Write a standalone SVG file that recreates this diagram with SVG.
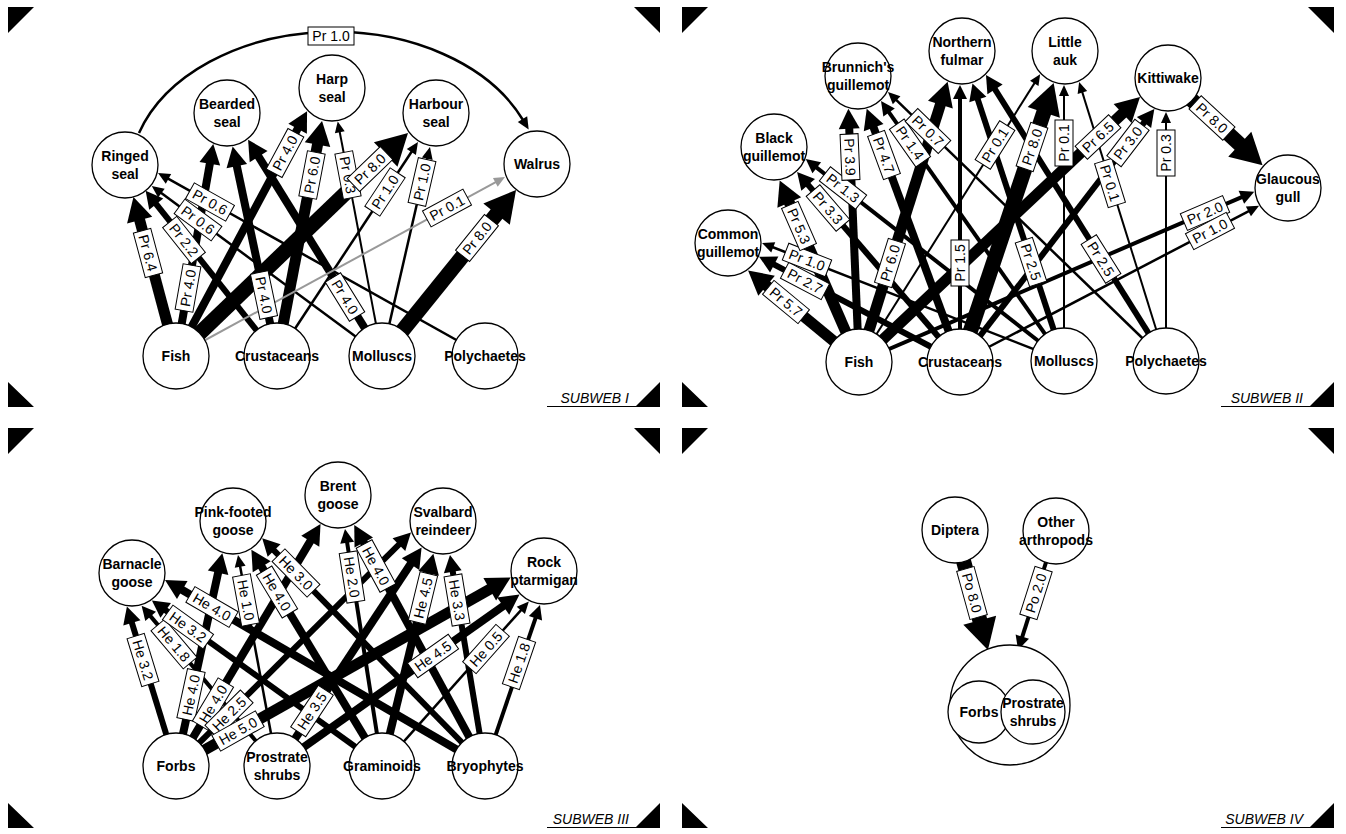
<svg xmlns="http://www.w3.org/2000/svg" width="1346" height="834" viewBox="0 0 1346 834">
<style>
.c line,.c path{stroke:#000;fill:none;stroke-linecap:butt}
.a{stroke-width:2;marker-end:url(#mA)}
.b{stroke-width:2.5;marker-end:url(#mB)}
.cc{stroke-width:4;marker-end:url(#mC)}
.d{stroke-width:6;marker-end:url(#mD)}
.e{stroke-width:8;marker-end:url(#mE)}
.f{stroke-width:11;marker-end:url(#mF)}
.g{stroke-width:15;marker-end:url(#mG)}
.c line.gr{stroke:#999;stroke-width:2;marker-end:url(#mAg)}
.n circle{fill:#fff;stroke:#000;stroke-width:1.3}
.n text{font-family:"Liberation Sans",Arial,sans-serif;font-weight:bold;font-size:14px;text-anchor:middle;fill:#000}
.l rect{fill:#fff;stroke:#000;stroke-width:1}
.l text{font-family:"Liberation Sans",Arial,sans-serif;font-size:14px;text-anchor:middle;fill:#000}
.sw{font-family:"Liberation Sans",Arial,sans-serif;font-style:italic;font-size:14px;text-anchor:end;fill:#000}
</style>
<defs>
<marker id="mA" markerUnits="userSpaceOnUse" orient="auto" overflow="visible" markerWidth="1" markerHeight="1"><path d="M-1,-5 L10,0 L-1,5 Z" fill="#000"/></marker>
<marker id="mAg" markerUnits="userSpaceOnUse" orient="auto" overflow="visible" markerWidth="1" markerHeight="1"><path d="M-1,-5 L10,0 L-1,5 Z" fill="#999"/></marker>
<marker id="mB" markerUnits="userSpaceOnUse" orient="auto" overflow="visible" markerWidth="1" markerHeight="1"><path d="M-1,-5.5 L11,0 L-1,5.5 Z" fill="#000"/></marker>
<marker id="mC" markerUnits="userSpaceOnUse" orient="auto" overflow="visible" markerWidth="1" markerHeight="1"><path d="M-1,-7 L13,0 L-1,7 Z" fill="#000"/></marker>
<marker id="mD" markerUnits="userSpaceOnUse" orient="auto" overflow="visible" markerWidth="1" markerHeight="1"><path d="M-1,-9 L16,0 L-1,9 Z" fill="#000"/></marker>
<marker id="mE" markerUnits="userSpaceOnUse" orient="auto" overflow="visible" markerWidth="1" markerHeight="1"><path d="M-1,-10.5 L19,0 L-1,10.5 Z" fill="#000"/></marker>
<marker id="mF" markerUnits="userSpaceOnUse" orient="auto" overflow="visible" markerWidth="1" markerHeight="1"><path d="M-1,-13 L23,0 L-1,13 Z" fill="#000"/></marker>
<marker id="mG" markerUnits="userSpaceOnUse" orient="auto" overflow="visible" markerWidth="1" markerHeight="1"><path d="M-1,-17 L30,0 L-1,17 Z" fill="#000"/></marker>
<g id="frame">
<path d="M8,7 L34,7 L8,33 Z M634,7 L660,7 L660,33 Z M8,382 L8,407 L34,407 Z M660,382 L660,407 L635,407 Z" fill="#000"/>
<line x1="547" y1="406.5" x2="660" y2="406.5" stroke="#000" stroke-width="1"/>
</g>
</defs>
<rect width="1346" height="834" fill="#fff"/>
<g id="frames">
<use href="#frame"/>
<use href="#frame" x="674"/>
<use href="#frame" y="421"/>
<use href="#frame" x="674" y="421"/>
<text class="sw" x="629" y="403">SUBWEB I</text>
<text class="sw" x="1303" y="403">SUBWEB II</text>
<text class="sw" x="629" y="824">SUBWEB III</text>
<text class="sw" x="1303" y="824">SUBWEB IV</text>
</g>
<g id="connectors" class="c">
<!-- subweb I -->
<line class="f" x1="176" y1="356" x2="139.4" y2="219.2"/>
<line class="d" x1="277" y1="356" x2="155.6" y2="203.3"/>
<line class="b" x1="382" y1="356" x2="160.6" y2="192.5"/>
<line class="b" x1="485" y1="356" x2="167.6" y2="178.4"/>
<line class="e" x1="176" y1="356" x2="210" y2="162.8"/>
<line class="e" x1="277" y1="356" x2="236.6" y2="165.1"/>
<line class="e" x1="382" y1="356" x2="258.1" y2="155.8"/>
<line class="e" x1="176" y1="356" x2="298.1" y2="127.9"/>
<line class="f" x1="277" y1="356" x2="317.7" y2="143.6"/>
<line class="a" x1="382" y1="356" x2="339.6" y2="131.3"/>
<line class="g" x1="176" y1="356" x2="386.4" y2="153.8"/>
<line class="b" x1="277" y1="356" x2="411.9" y2="151.2"/>
<line class="b" x1="382" y1="356" x2="427.5" y2="157.7"/>
<line class="gr" x1="176" y1="356" x2="496.2" y2="181.8"/>
<line class="g" x1="382" y1="356" x2="497.2" y2="213.3"/>
<path class="b" d="M139,133 A205,145 0 0 1 523,120"/>
<!-- subweb II -->
<line class="f" x1="859" y1="362" x2="765.8" y2="285.1"/>
<line class="d" x1="960" y1="362" x2="773.3" y2="264.1"/>
<line class="b" x1="1064" y1="361" x2="772.3" y2="247"/>
<line class="f" x1="859" y1="362" x2="788.9" y2="201.6"/>
<line class="d" x1="960" y1="362" x2="807.5" y2="184.1"/>
<line class="cc" x1="1064" y1="361" x2="816" y2="167.1"/>
<line class="e" x1="859" y1="362" x2="849.2" y2="127.7"/>
<line class="e" x1="960" y1="362" x2="873.3" y2="126.6"/>
<line class="cc" x1="1064" y1="361" x2="888.5" y2="111.6"/>
<line class="b" x1="1166" y1="361" x2="895.9" y2="99.6"/>
<line class="f" x1="859" y1="362" x2="940.7" y2="103.7"/>
<line class="cc" x1="960" y1="362" x2="960" y2="98"/>
<line class="d" x1="1064" y1="361" x2="977.5" y2="98.6"/>
<line class="d" x1="1166" y1="361" x2="994.5" y2="88.5"/>
<line class="a" x1="859" y1="362" x2="1034.8" y2="82.6"/>
<line class="g" x1="960" y1="362" x2="1044.1" y2="111.5"/>
<line class="a" x1="1064" y1="361" x2="1064" y2="95"/>
<line class="a" x1="1166" y1="361" x2="1082.1" y2="91.6"/>
<line class="f" x1="859" y1="362" x2="1123.3" y2="112.8"/>
<line class="d" x1="960" y1="362" x2="1144.6" y2="121.8"/>
<line class="a" x1="1166" y1="361" x2="1166" y2="122"/>
<line class="g" x1="1168" y1="78" x2="1240.5" y2="145"/>
<line class="cc" x1="859" y1="362" x2="1242.3" y2="196.9"/>
<line class="b" x1="960" y1="362" x2="1249.3" y2="210.8"/>
<!-- subweb III -->
<line class="d" x1="176" y1="766" x2="131.6" y2="621.9"/>
<line class="cc" x1="277" y1="766" x2="150" y2="615.6"/>
<line class="d" x1="382" y1="766" x2="164.9" y2="609.8"/>
<line class="e" x1="485" y1="766" x2="181.4" y2="589.5"/>
<line class="e" x1="176" y1="766" x2="218.3" y2="571.8"/>
<line class="b" x1="277" y1="766" x2="240" y2="565.8"/>
<line class="e" x1="382" y1="766" x2="261.2" y2="565.9"/>
<line class="d" x1="485" y1="766" x2="273.4" y2="549.8"/>
<line class="e" x1="176" y1="766" x2="310.8" y2="540.4"/>
<line class="cc" x1="382" y1="766" x2="347" y2="541.8"/>
<line class="e" x1="485" y1="766" x2="363.3" y2="541.6"/>
<line class="d" x1="176" y1="766" x2="399.6" y2="543.9"/>
<line class="e" x1="277" y1="766" x2="411.1" y2="563.3"/>
<line class="e" x1="382" y1="766" x2="428.9" y2="572.2"/>
<line class="d" x1="485" y1="766" x2="452.6" y2="570.8"/>
<line class="f" x1="176" y1="766" x2="490.6" y2="588.8"/>
<line class="e" x1="277" y1="766" x2="504" y2="605.5"/>
<line class="b" x1="382" y1="766" x2="521.5" y2="609.6"/>
<line class="cc" x1="485" y1="766" x2="535.8" y2="617.3"/>
<!-- subweb IV -->
<line class="g" x1="955" y1="530" x2="980" y2="621.1"/>
<line class="cc" x1="1056" y1="531" x2="1022" y2="637.6"/>
</g>
<g class="n">
<g id="ringed-seal"><circle cx="125" cy="165" r="33"/><text x="125" y="161">Ringed</text><text x="125" y="179">seal</text></g>
<g id="bearded-seal"><circle cx="227" cy="113" r="33"/><text x="227" y="109">Bearded</text><text x="227" y="127">seal</text></g>
<g id="harp-seal"><circle cx="332" cy="88" r="33"/><text x="332" y="84">Harp</text><text x="332" y="102">seal</text></g>
<g id="harbour-seal"><circle cx="436" cy="113" r="33"/><text x="436" y="109">Harbour</text><text x="436" y="127">seal</text></g>
<g id="walrus"><circle cx="537" cy="164" r="33"/><text x="537" y="169">Walrus</text></g>
<g id="fish-1"><circle cx="176" cy="356" r="33"/><text x="176" y="361">Fish</text></g>
<g id="crustaceans-1"><circle cx="277" cy="356" r="33"/><text x="277" y="361">Crustaceans</text></g>
<g id="molluscs-1"><circle cx="382" cy="356" r="33"/><text x="382" y="361">Molluscs</text></g>
<g id="polychaetes-1"><circle cx="485" cy="356" r="33"/><text x="485" y="361">Polychaetes</text></g>

<g id="common-guillemot"><circle cx="728" cy="243" r="33"/><text x="728" y="239">Common</text><text x="728" y="257">guillemot</text></g>
<g id="black-guillemot"><circle cx="774" cy="147" r="33"/><text x="774" y="143">Black</text><text x="774" y="161">guillemot</text></g>
<g id="brunnichs-guillemot"><circle cx="858" cy="76" r="33"/><text x="858" y="72">Brunnich's</text><text x="858" y="90">guillemot</text></g>
<g id="northern-fulmar"><circle cx="962" cy="51" r="33"/><text x="962" y="47">Northern</text><text x="962" y="65">fulmar</text></g>
<g id="little-auk"><circle cx="1065" cy="51" r="33"/><text x="1065" y="47">Little</text><text x="1065" y="65">auk</text></g>
<g id="kittiwake"><circle cx="1168" cy="78" r="33"/><text x="1168" y="83">Kittiwake</text></g>
<g id="glaucous-gull"><circle cx="1288" cy="188" r="33"/><text x="1288" y="184">Glaucous</text><text x="1288" y="202">gull</text></g>
<g id="fish-2"><circle cx="859" cy="362" r="33"/><text x="859" y="367">Fish</text></g>
<g id="crustaceans-2"><circle cx="960" cy="362" r="33"/><text x="960" y="367">Crustaceans</text></g>
<g id="molluscs-2"><circle cx="1064" cy="361" r="33"/><text x="1064" y="366">Molluscs</text></g>
<g id="polychaetes-2"><circle cx="1166" cy="361" r="33"/><text x="1166" y="366">Polychaetes</text></g>

<g id="barnacle-goose"><circle cx="132" cy="573" r="33"/><text x="132" y="569">Barnacle</text><text x="132" y="587">goose</text></g>
<g id="pink-footed-goose"><circle cx="233" cy="521" r="33"/><text x="233" y="517">Pink-footed</text><text x="233" y="535">goose</text></g>
<g id="brent-goose"><circle cx="338" cy="495" r="33"/><text x="338" y="491">Brent</text><text x="338" y="509">goose</text></g>
<g id="svalbard-reindeer"><circle cx="443" cy="521" r="33"/><text x="443" y="517">Svalbard</text><text x="443" y="535">reindeer</text></g>
<g id="rock-ptarmigan"><circle cx="544" cy="571" r="33"/><text x="544" y="567">Rock</text><text x="544" y="585">ptarmigan</text></g>
<g id="forbs-3"><circle cx="176" cy="766" r="33"/><text x="176" y="771">Forbs</text></g>
<g id="prostrate-shrubs-3"><circle cx="277" cy="766" r="33"/><text x="277" y="762">Prostrate</text><text x="277" y="780">shrubs</text></g>
<g id="graminoids-3"><circle cx="382" cy="766" r="33"/><text x="382" y="771">Graminoids</text></g>
<g id="bryophytes-3"><circle cx="485" cy="766" r="33"/><text x="485" y="771">Bryophytes</text></g>

<g id="diptera"><circle cx="955" cy="530" r="33"/><text x="955" y="535">Diptera</text></g>
<g id="other-arthropods"><circle cx="1056" cy="531" r="33"/><text x="1056" y="527">Other</text><text x="1056" y="545">arthropods</text></g>
<g id="plants-4"><circle cx="1010" cy="705" r="60"/></g>
<g id="forbs-4"><circle cx="979" cy="712" r="31"/><text x="979" y="717">Forbs</text></g>
<g id="prostrate-shrubs-4"><circle cx="1033" cy="712" r="32"/><text x="1033" y="708">Prostrate</text><text x="1033" y="726">shrubs</text></g>
</g>
<g id="edge-labels" class="l">
<g transform="translate(331,36)"><rect x="-23" y="-9" width="46" height="18"/><text y="5">Pr 1.0</text></g>
<g transform="translate(148,253) rotate(75)"><rect x="-23" y="-9" width="46" height="18"/><text y="5">Pr 6.4</text></g>
<g transform="translate(184,240) rotate(51.5)"><rect x="-23" y="-9" width="46" height="18"/><text y="5">Pr 2.2</text></g>
<g transform="translate(198,220) rotate(36.4)"><rect x="-23" y="-9" width="46" height="18"/><text y="5">Pr 0.6</text></g>
<g transform="translate(210,202) rotate(29.2)"><rect x="-23" y="-9" width="46" height="18"/><text y="5">Pr 0.6</text></g>
<g transform="translate(188,288) rotate(-80)"><rect x="-23" y="-9" width="46" height="18"/><text y="5">Pr 4.0</text></g>
<g transform="translate(264,295) rotate(78.1)"><rect x="-23" y="-9" width="46" height="18"/><text y="5">Pr 4.0</text></g>
<g transform="translate(345,297) rotate(58.3)"><rect x="-23" y="-9" width="46" height="18"/><text y="5">Pr 4.0</text></g>
<g transform="translate(285,153) rotate(-61.8)"><rect x="-23" y="-9" width="46" height="18"/><text y="5">Pr 4.0</text></g>
<g transform="translate(312,175) rotate(-79.2)"><rect x="-23" y="-9" width="46" height="18"/><text y="5">Pr 6.0</text></g>
<g transform="translate(348,175) rotate(79.3)"><rect x="-23" y="-9" width="46" height="18"/><text y="5">Pr 0.3</text></g>
<g transform="translate(370,169) rotate(-43.9)"><rect x="-23" y="-9" width="46" height="18"/><text y="5">Pr 8.0</text></g>
<g transform="translate(385,192) rotate(-56.6)"><rect x="-23" y="-9" width="46" height="18"/><text y="5">Pr 1.0</text></g>
<g transform="translate(422,182) rotate(-77.1)"><rect x="-23" y="-9" width="46" height="18"/><text y="5">Pr 1.0</text></g>
<g transform="translate(447,208) rotate(-28.5)"><rect x="-23" y="-9" width="46" height="18"/><text y="5">Pr 0.1</text></g>
<g transform="translate(477,238) rotate(-51.1)"><rect x="-23" y="-9" width="46" height="18"/><text y="5">Pr 8.0</text></g>

<g transform="translate(786,302) rotate(39.6)"><rect x="-23" y="-9" width="46" height="18"/><text y="5">Pr 5.7</text></g>
<g transform="translate(805,281) rotate(27.7)"><rect x="-23" y="-9" width="46" height="18"/><text y="5">Pr 2.7</text></g>
<g transform="translate(807,260) rotate(21.3)"><rect x="-23" y="-9" width="46" height="18"/><text y="5">Pr 1.0</text></g>
<g transform="translate(799,226) rotate(66.4)"><rect x="-23" y="-9" width="46" height="18"/><text y="5">Pr 5.3</text></g>
<g transform="translate(828,208) rotate(49.4)"><rect x="-23" y="-9" width="46" height="18"/><text y="5">Pr 3.3</text></g>
<g transform="translate(843,188) rotate(38)"><rect x="-23" y="-9" width="46" height="18"/><text y="5">Pr 1.3</text></g>
<g transform="translate(850,157) rotate(87.6)"><rect x="-23" y="-9" width="46" height="18"/><text y="5">Pr 3.9</text></g>
<g transform="translate(884,155) rotate(69.8)"><rect x="-23" y="-9" width="46" height="18"/><text y="5">Pr 4.7</text></g>
<g transform="translate(910,143) rotate(54.9)"><rect x="-23" y="-9" width="46" height="18"/><text y="5">Pr 1.4</text></g>
<g transform="translate(928,131) rotate(44.1)"><rect x="-23" y="-9" width="46" height="18"/><text y="5">Pr 0.7</text></g>
<g transform="translate(890,263) rotate(-72.5)"><rect x="-23" y="-9" width="46" height="18"/><text y="5">Pr 6.0</text></g>
<g transform="translate(960,263) rotate(-90)"><rect x="-23" y="-9" width="46" height="18"/><text y="5">Pr 1.5</text></g>
<g transform="translate(1031,262) rotate(71.8)"><rect x="-23" y="-9" width="46" height="18"/><text y="5">Pr 2.5</text></g>
<g transform="translate(1101,259) rotate(57.8)"><rect x="-23" y="-9" width="46" height="18"/><text y="5">Pr 2.5</text></g>
<g transform="translate(995,145) rotate(-57.8)"><rect x="-23" y="-9" width="46" height="18"/><text y="5">Pr 0.1</text></g>
<g transform="translate(1032,147) rotate(-71.4)"><rect x="-23" y="-9" width="46" height="18"/><text y="5">Pr 8.0</text></g>
<g transform="translate(1064,143) rotate(-90)"><rect x="-23" y="-9" width="46" height="18"/><text y="5">Pr 0.1</text></g>
<g transform="translate(1110,183) rotate(72.7)"><rect x="-23" y="-9" width="46" height="18"/><text y="5">Pr 0.1</text></g>
<g transform="translate(1098,137) rotate(-43.3)"><rect x="-23" y="-9" width="46" height="18"/><text y="5">Pr 6.5</text></g>
<g transform="translate(1128,143) rotate(-52.5)"><rect x="-23" y="-9" width="46" height="18"/><text y="5">Pr 3.0</text></g>
<g transform="translate(1166,153) rotate(-90)"><rect x="-23" y="-9" width="46" height="18"/><text y="5">Pr 0.3</text></g>
<g transform="translate(1212,118) rotate(42.7)"><rect x="-23" y="-9" width="46" height="18"/><text y="5">Pr 8.0</text></g>
<g transform="translate(1205,213) rotate(-23.3)"><rect x="-23" y="-9" width="46" height="18"/><text y="5">Pr 2.0</text></g>
<g transform="translate(1210,231) rotate(-27.6)"><rect x="-23" y="-9" width="46" height="18"/><text y="5">Pr 1.0</text></g>

<g transform="translate(143,660) rotate(72.9)"><rect x="-25" y="-9" width="50" height="18"/><text y="5">He 3.2</text></g>
<g transform="translate(174,644) rotate(49.8)"><rect x="-25" y="-9" width="50" height="18"/><text y="5">He 1.8</text></g>
<g transform="translate(188,627) rotate(35.7)"><rect x="-25" y="-9" width="50" height="18"/><text y="5">He 3.2</text></g>
<g transform="translate(212,607) rotate(30.2)"><rect x="-25" y="-9" width="50" height="18"/><text y="5">He 4.0</text></g>
<g transform="translate(191,695) rotate(-77.7)"><rect x="-25" y="-9" width="50" height="18"/><text y="5">He 4.0</text></g>
<g transform="translate(246,600) rotate(79.5)"><rect x="-25" y="-9" width="50" height="18"/><text y="5">He 1.0</text></g>
<g transform="translate(277,592) rotate(58.9)"><rect x="-25" y="-9" width="50" height="18"/><text y="5">He 4.0</text></g>
<g transform="translate(296,573) rotate(45.6)"><rect x="-25" y="-9" width="50" height="18"/><text y="5">He 3.0</text></g>
<g transform="translate(213,704) rotate(-59.1)"><rect x="-25" y="-9" width="50" height="18"/><text y="5">He 4.0</text></g>
<g transform="translate(352,577) rotate(81.1)"><rect x="-25" y="-9" width="50" height="18"/><text y="5">He 2.0</text></g>
<g transform="translate(376,566) rotate(61.5)"><rect x="-25" y="-9" width="50" height="18"/><text y="5">He 4.0</text></g>
<g transform="translate(229,714) rotate(-44.8)"><rect x="-25" y="-9" width="50" height="18"/><text y="5">He 2.5</text></g>
<g transform="translate(312,711) rotate(-56.5)"><rect x="-25" y="-9" width="50" height="18"/><text y="5">He 3.5</text></g>
<g transform="translate(423,598) rotate(-76.4)"><rect x="-25" y="-9" width="50" height="18"/><text y="5">He 4.5</text></g>
<g transform="translate(457,600) rotate(80.6)"><rect x="-25" y="-9" width="50" height="18"/><text y="5">He 3.3</text></g>
<g transform="translate(238,731) rotate(-29.4)"><rect x="-25" y="-9" width="50" height="18"/><text y="5">He 5.0</text></g>
<g transform="translate(433,656) rotate(-35.3)"><rect x="-25" y="-9" width="50" height="18"/><text y="5">He 4.5</text></g>
<g transform="translate(486,649) rotate(-48.3)"><rect x="-25" y="-9" width="50" height="18"/><text y="5">He 0.5</text></g>
<g transform="translate(519,663) rotate(-71.1)"><rect x="-25" y="-9" width="50" height="18"/><text y="5">He 1.8</text></g>

<g transform="translate(972,593) rotate(74.6)"><rect x="-25" y="-9" width="50" height="18"/><text y="5">Po 8.0</text></g>
<g transform="translate(1036,593) rotate(-72.3)"><rect x="-25" y="-9" width="50" height="18"/><text y="5">Po 2.0</text></g>
</g>
</svg>
